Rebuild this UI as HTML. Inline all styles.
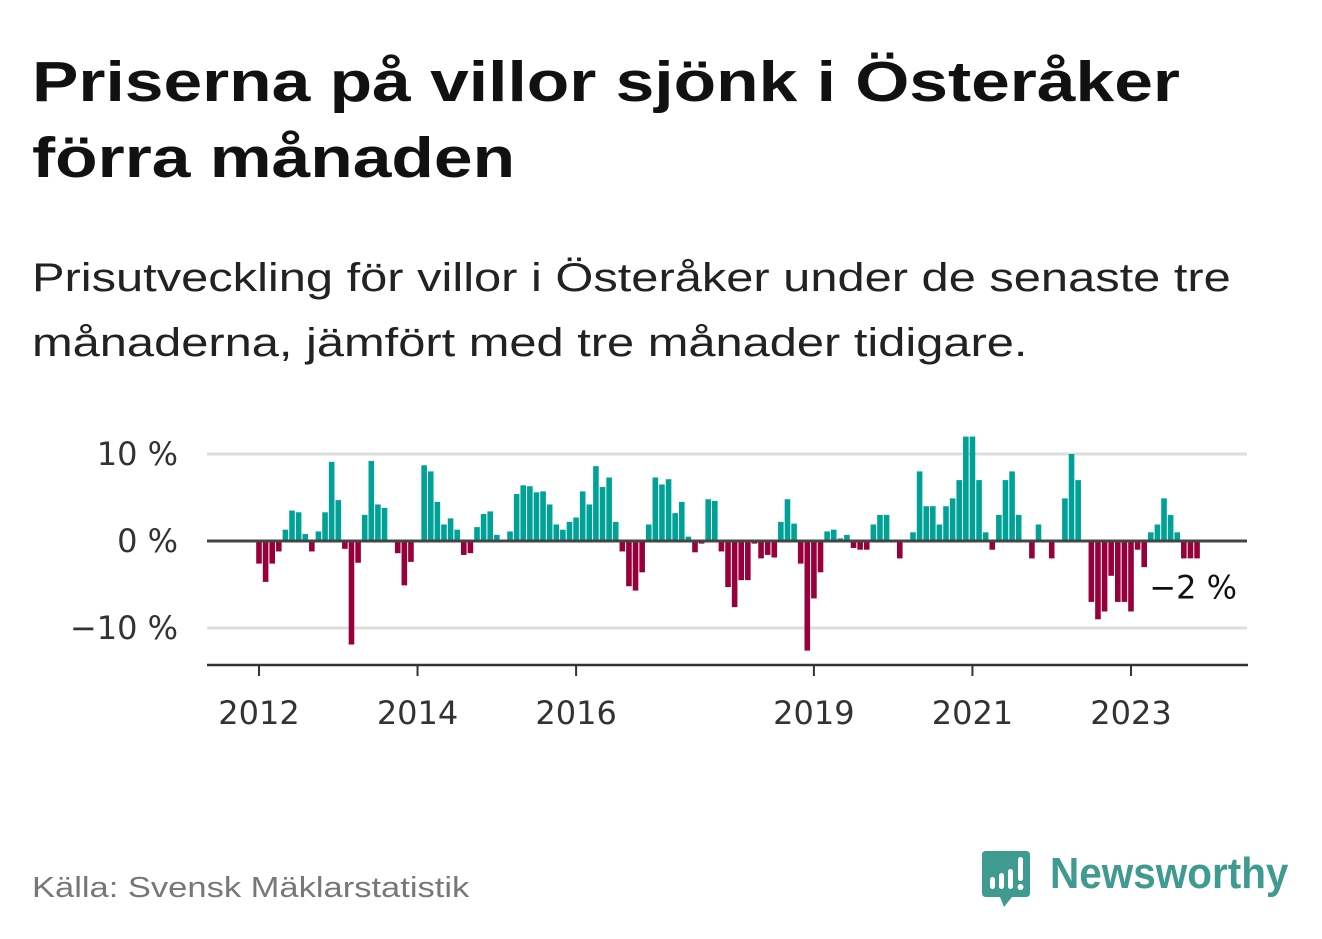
<!DOCTYPE html>
<html><head><meta charset="utf-8"><style>
body{margin:0;background:#fff;width:1322px;height:939px;overflow:hidden;font-family:"Liberation Sans","DejaVu Sans",sans-serif}
.t{position:absolute;left:32px;color:#111;transform-origin:0 0;white-space:nowrap}
</style></head><body>
<div class="t" style="top:44px;font-size:57px;font-weight:bold;line-height:76px;color:#111;transform:scaleX(1.22)">Priserna på villor sjönk i Österåker<br>förra månaden</div>
<div class="t" style="top:246px;font-size:40px;line-height:65px;color:#222;transform:scaleX(1.22)">Prisutveckling för villor i Österåker under de senaste tre<br>månaderna, jämfört med tre månader tidigare.</div>
<svg id="chart" width="1322" height="800" style="position:absolute;left:0;top:0" xmlns="http://www.w3.org/2000/svg"></svg>
<div class="t" style="top:872px;font-size:29px;color:#777;transform:scaleX(1.19)">Källa: Svensk Mäklarstatistik</div>
<div style="position:absolute;left:982px;top:851px;width:320px;height:60px">
<svg width="50" height="58" style="position:absolute;left:0;top:0"><path d="M4 0H44Q48 0 48 4V42Q48 46 44 46H30L22 56L18 46H4Q0 46 0 42V4Q0 0 4 0Z" fill="#3f9a8f"/><rect x="8" y="26" width="5" height="12" rx="2.5" fill="#fff"/><rect x="17" y="22" width="5" height="16" rx="2.5" fill="#fff"/><rect x="26" y="18" width="5" height="20" rx="2.5" fill="#fff"/><rect x="36" y="6" width="5" height="24" rx="2.5" fill="#fff"/><circle cx="38.5" cy="36" r="3" fill="#fff"/></svg>
<div style="position:absolute;left:68px;top:-2px;font-size:44px;color:#3f9a8f;font-weight:bold;transform:scaleX(0.92);transform-origin:0 0;white-space:nowrap">Newsworthy</div>
</div>
<script>
const values=[-2.6,-4.7,-2.6,-1.2,1.3,3.5,3.3,0.8,-1.2,1.1,3.3,9.1,4.7,-0.9,-11.9,-2.5,3.0,9.2,4.2,3.8,0,-1.4,-5.1,-2.4,0,8.7,8.0,4.5,1.9,2.6,1.3,-1.6,-1.4,1.6,3.1,3.4,0.7,0,1.1,5.4,6.4,6.3,5.6,5.7,4.2,1.9,1.3,2.2,2.7,
5.7,4.2,8.6,6.2,7.3,2.2,-1.2,-5.2,-5.7,-3.6,1.9,7.3,6.5,7.1,3.2,4.5,0.5,-1.3,-0.3,4.8,4.6,-1.2,-5.3,-7.6,-4.5,-4.5,-0.3,-2.0,-1.6,-1.9,2.2,4.8,2.0,-2.6,-12.6,-6.6,-3.6,1.1,1.3,0.3,0.7,-0.8,-1.0,-1.0,1.9,3.0,3.0,0,-2.0,
0,1.0,8.0,4.0,4.0,1.9,4.0,4.9,7.0,12.0,12.0,7.0,1.0,-1.0,3.0,7.0,8.0,3.0,0,-2.0,1.9,0,-2.0,0,4.9,10.0,7.0,0,-7.0,-9.0,-8.1,-4.0,-7.0,-7.0,-8.1,-1.0,-3.0,1.0,1.9,4.9,3.0,1.0,-2.0,-2.0,-2.0];
const startYear=2012;
const yTicks=[10,0,-10];
const yTickLabels=["10 %","0 %","\u221210 %"];
const xTickYears=[2012,2014,2016,2019,2021,2023];
const lastLabel="\u22122 %";
const svg=document.getElementById('chart');
const NS="http://www.w3.org/2000/svg";
const FONT='"DejaVu Sans","Liberation Sans",sans-serif';
const x=i=>259+i*6.606;
const y=v=>541-v*8.7;
function mk(tag,attrs){const e=document.createElementNS(NS,tag);for(const k in attrs)e.setAttribute(k,attrs[k]);svg.appendChild(e);return e;}
yTicks.forEach((t,j)=>{
  if(t!==0){const g=mk('line',{x1:207,x2:1247,y1:y(t),y2:y(t),stroke:'#ddd','stroke-width':3});
  
  }
  const l=mk('text',{x:178,y:y(t)+11,'text-anchor':'end','font-size':32,fill:'#333','font-family':FONT});l.textContent=yTickLabels[j];
  
  
});
values.forEach((v,i)=>{
  if(v===0)return;
  const r=mk('rect',{x:x(i)-2.8,width:5.6,y:v>0?y(v):y(0),height:Math.abs(y(v)-y(0)),fill:v>0?'#00a298':'#98003c'});
  
  
});
const z=mk('line',{x1:207,x2:1247,y1:y(0),y2:y(0),stroke:'#444','stroke-width':3});


const ax=mk('line',{x1:207,x2:1248,y1:665,y2:665,stroke:'#333','stroke-width':2.5});


xTickYears.forEach(yr=>{
  const xx=x((yr-startYear)*12);
  const tk=mk('line',{x1:xx,x2:xx,y1:665,y2:676,stroke:'#333','stroke-width':2});
  
  
  const l=mk('text',{x:xx,y:724,'text-anchor':'middle','font-size':32,fill:'#333','font-family':FONT});l.textContent=yr;
  
  
});
const ll=mk('text',{x:1237,y:y(values[values.length-1])+40,'text-anchor':'end','font-size':32,fill:'#111','font-family':FONT});ll.textContent=lastLabel;


</script>
</body></html>
